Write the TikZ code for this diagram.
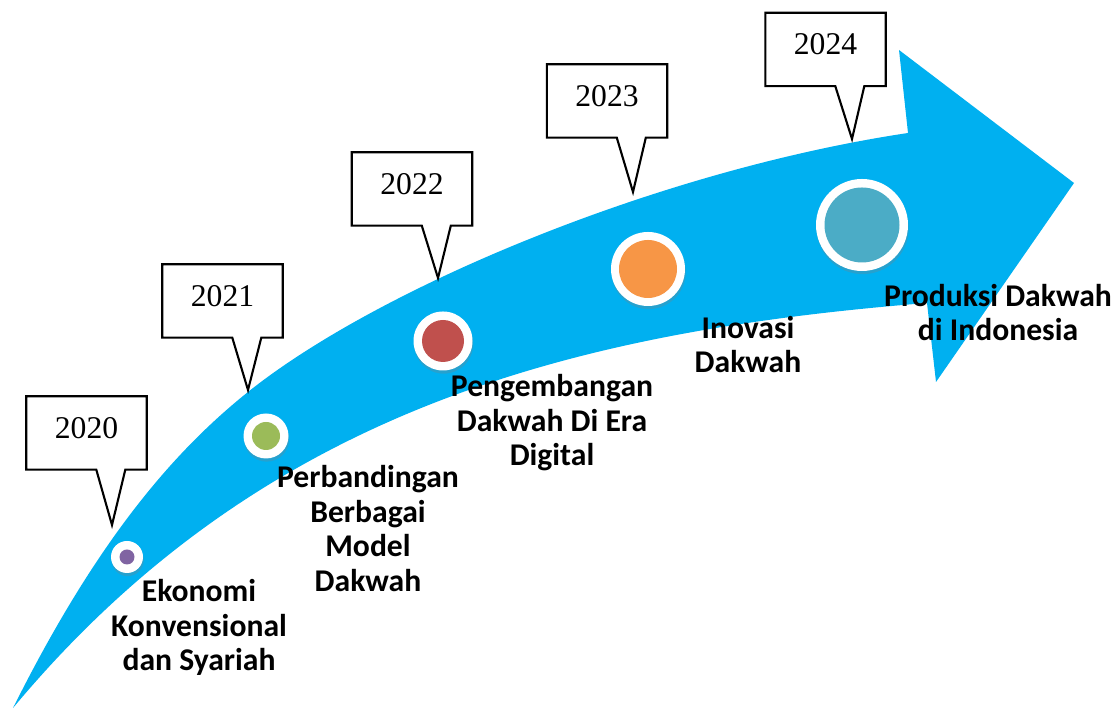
\documentclass[tikz,border=0pt]{standalone}
\usepackage{fontspec}
\setmainfont{Liberation Serif}
\newfontfamily\labelfont{Carlito}
\usetikzlibrary{calc,shadows}

\definecolor{arrowblue}{HTML}{00B0F0}
\definecolor{dotpurple}{HTML}{8064A2}
\definecolor{dotgreen}{HTML}{9BBB59}
\definecolor{dotred}{HTML}{C0504D}
\definecolor{dotorange}{HTML}{F79646}
\definecolor{dotteal}{HTML}{4BACC6}

\begin{document}
\begin{tikzpicture}[
  yearbox/.style={minimum width=1.19cm, minimum height=0.72cm, inner sep=0pt,
    text depth=0.1cm, font=\fontsize{9}{10}\selectfont},
  callout/.style={draw, line width=0.6pt, line join=miter},
  ring/.style={circle, fill=white, inner sep=0pt,
    drop shadow={shadow xshift=0.2pt, shadow yshift=-0.9pt, opacity=0.3}},
  dot/.style={circle, inner sep=0pt},
  steplabel/.style={align=center, inner sep=0pt,
    font=\labelfont\bfseries\fontsize{9}{9.8}\selectfont}]

      \useasboundingbox (0,0) rectangle (11.2,7.08);

      % curved arrow
      \fill [arrowblue] (0.13,0) .. controls (0.93,1.6) and (1.68,2.52) .. (2.48,3.16)
        .. controls (3.78,4.20) and (6.58,5.375) .. (9.08,5.75)
        -- (8.99,6.58) -- (10.74,5.25) -- (9.36,3.26) -- (9.27,4.05)
        .. controls (5.77,3.77) and (2.63,3.0) .. (0.13,0) -- cycle;

      % year callouts
      \node at (0.865,2.75) [yearbox, name=y20] {2020};
      \coordinate (t20) at (1.12,1.83);
      \node at (2.225,4.07) [yearbox, name=y21] {2021};
      \coordinate (t21) at (2.48,3.18);
      \node at (4.12,5.19) [yearbox, name=y22] {2022};
      \coordinate (t22) at (4.38,4.30);
      \node at (6.07,6.07) [yearbox, name=y23] {2023};
      \coordinate (t23) at (6.33,5.16);
      \node at (8.255,6.585) [yearbox, name=y24] {2024};
      \coordinate (t24) at (8.52,5.69);

      \foreach \y in {20,21,22,23,24}
        \draw [callout] (y\y.north west) -- (y\y.north east) -- (y\y.south east)
          -- ($(y\y.south west)+(0.99,0)$) -- (t\y) -- ($(y\y.south west)+(0.70,0)$)
          -- (y\y.south west) -- cycle;

      % milestones
      \node at (1.27,1.51) [ring, minimum size=0.32cm, name=c20] {};
      \node at (c20) [dot, minimum size=0.15cm, fill=dotpurple, name=d20] {};

      \node at (2.66,2.72) [ring, minimum size=0.45cm, name=c21] {};
      \node at (c21) [dot, minimum size=0.28cm, fill=dotgreen, name=d21] {};

      \node at (4.43,3.67) [ring, minimum size=0.59cm, name=c22] {};
      \node at (c22) [dot, minimum size=0.42cm, fill=dotred, name=d22] {};

      \node at (6.48,4.39) [ring, minimum size=0.74cm, name=c23] {};
      \node at (c23) [dot, minimum size=0.58cm, fill=dotorange, name=d23] {};

      \node at (8.62,4.83) [ring, minimum size=0.92cm, name=c24] {};
      \node at (c24) [dot, minimum size=0.75cm, fill=dotteal, name=d24] {};

      % labels
      \node at (1.99,0.805) [steplabel, name=l20] {Ekonomi\\Konvensional\\dan Syariah};
      \node at (3.68,1.795) [steplabel, name=l21] {Perbandingan\\Berbagai\\Model\\Dakwah};
      \node at (5.52,2.85) [steplabel, name=l22] {Pengembangan\\Dakwah Di Era\\Digital};
      \node at (7.48,3.635) [steplabel, name=l23] {Inovasi\\Dakwah};
      \node at (9.98,3.955) [steplabel, name=l24] {Produksi Dakwah\\di Indonesia};
    \end{tikzpicture}
\end{document}
